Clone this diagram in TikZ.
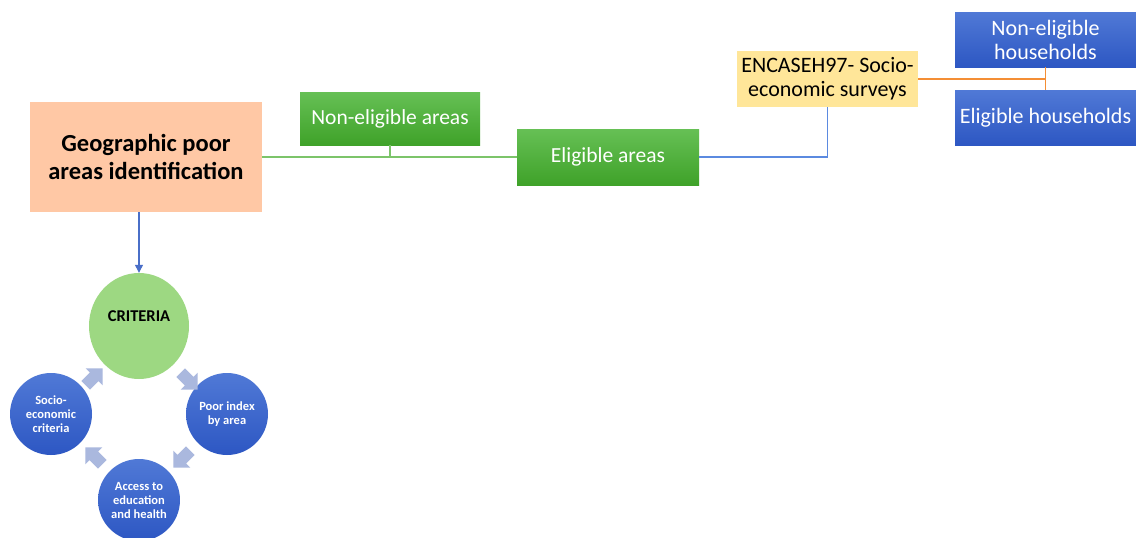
\documentclass[tikz,border=0pt]{standalone}
\usepackage{fontspec}
\setmainfont{Carlito}
\usepackage{tikz}
\usetikzlibrary{positioning,shapes.arrows,shapes.geometric,arrows.meta}
\definecolor{GeoPeach}{HTML}{FFC8A5}
\definecolor{SurveyYellow}{HTML}{FFE699}
\definecolor{AreaGreenTop}{HTML}{66C055}
\definecolor{AreaGreenBot}{HTML}{3FA229}
\definecolor{HhBlueTop}{HTML}{5079D6}
\definecolor{HhBlueBot}{HTML}{2D57C3}
\definecolor{CritGreen}{HTML}{9DD882}
\definecolor{LinkGreen}{HTML}{7CC46A}
\definecolor{LinkBlue}{HTML}{5B8AE0}
\definecolor{LinkOrange}{HTML}{F48E35}
\definecolor{ArrowBlue}{HTML}{4A6FC8}
\definecolor{CycleArrow}{HTML}{AAB8DE}

\begin{document}
\begin{tikzpicture}[x=1pt,y=-1pt,
  areabox/.style={top color=AreaGreenTop, bottom color=AreaGreenBot, text=white,
    font=\fontsize{21.5}{24}\selectfont, inner sep=0pt},
  hhbox/.style={top color=HhBlueTop, bottom color=HhBlueBot, text=white,
    font=\fontsize{22}{24}\selectfont, inner sep=0pt, align=center,
    minimum width=181pt, minimum height=55pt},
  critcirc/.style={circle, top color=HhBlueTop, bottom color=HhBlueBot, text=white,
    font=\bfseries\fontsize{12.5}{14}\selectfont, align=center,
    minimum size=82pt, inner sep=0pt},
  cyclearrow/.style={single arrow, fill=CycleArrow, minimum height=24pt,
    minimum width=24pt, inner sep=5pt, single arrow head extend=5pt}
]
  \clip (0,0) rectangle (1136,538);
  \fill[white] (0,0) rectangle (1136,538);

  % area selection
  \node[fill=GeoPeach, minimum width=232pt, minimum height=110pt, align=center,
    font=\bfseries\fontsize{24.5}{28}\selectfont, inner sep=0pt]
    (geo) at (146,157) {Geographic poor\\areas identification};
  \node[areabox, minimum width=180pt, minimum height=53pt] (nonelig) at (390,118.5) {Non-eligible areas};
  \node[areabox, minimum width=182pt, minimum height=56pt] (elig) at (608,157) {Eligible areas};

  % household selection
  \node[fill=SurveyYellow, minimum width=181pt, minimum height=56pt, align=center,
    font=\fontsize{22}{24}\selectfont, inner sep=0pt]
    (survey) at (827.5,79) {ENCASEH97- Socio-\\economic surveys};
  \node[hhbox] (nonhh) at (1045.5,39.5) {Non-eligible\\households};
  \node[hhbox] (hh) at (1045.5,117.5) {Eligible households};

  % links
  \draw[LinkGreen, line width=1.6pt] (geo.east) -- (elig.west);
  \draw[LinkGreen, line width=1.4pt] (nonelig.south) -- (nonelig.south |- geo.east);
  \draw[LinkBlue, line width=1.5pt] (elig.east) -- (survey.south |- elig.east) -- (survey.south);
  \draw[LinkOrange, line width=1.6pt] (survey.east) -- (nonhh.south |- survey.east);
  \draw[LinkOrange, line width=1.4pt] (nonhh.south) -- (hh.north);

  % criteria cycle
  \node[ellipse, fill=CritGreen, minimum width=100pt, minimum height=106pt, inner sep=0pt] (crit) at (139,326) {};
  \node[font=\bfseries\fontsize{16.5}{18}\selectfont] (critlabel) at ([yshift=10pt]crit.center) {CRITERIA};
  \node[critcirc] (poor) at (227,414) {Poor index\\by area};
  \node[critcirc] (access) at (139,500) {Access to\\education\\and health};
  \node[critcirc] (socio) at (51,414) {Socio-\\economic\\criteria};
  \draw[ArrowBlue, line width=1.2pt, -{Triangle[length=8pt,width=8pt]}] (crit.north |- geo.south) -- (crit.north);

  \foreach \x/\y/\ang in {187/379/-45, 184/457/-135, 96/458/135, 92/379/45}{
    \node[cyclearrow, rotate=\ang] at (\x,\y) {};
  }
\end{tikzpicture}
\end{document}
